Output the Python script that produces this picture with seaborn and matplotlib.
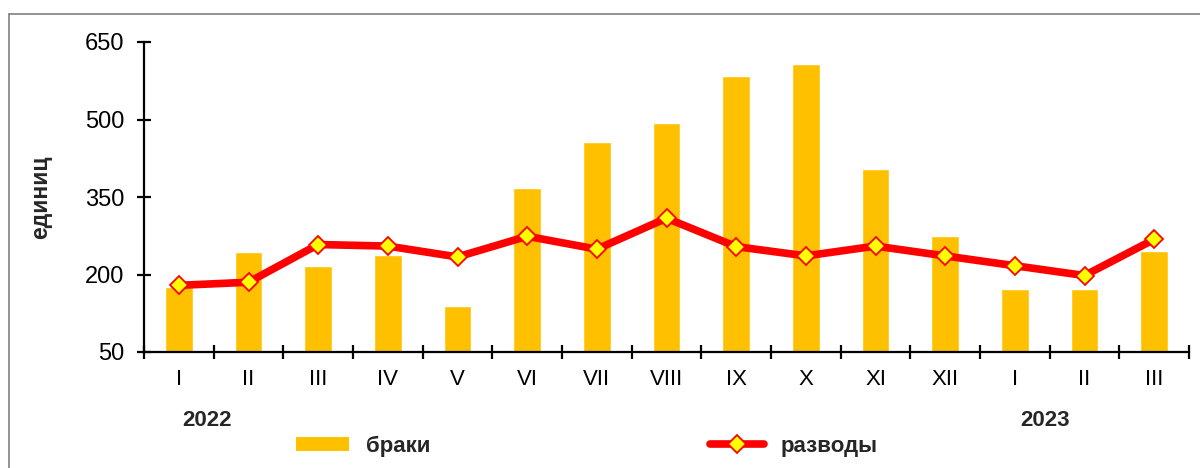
import matplotlib
matplotlib.use("Agg")
import numpy as np
import pandas as pd
import matplotlib.pyplot as plt
from matplotlib.lines import Line2D
from matplotlib.patches import Patch
import seaborn as sns

# Data
months = ["I", "II", "III", "IV", "V", "VI", "VII", "VIII", "IX", "X", "XI", "XII", "I", "II", "III"]
years = ["2022"] * 12 + ["2023"] * 3
marriages = [175, 243, 216, 238, 140, 367, 456, 493, 584, 607, 404, 275, 171, 171, 245]
divorces = [179, 185, 258, 255, 234, 274, 249, 309, 254, 236, 255, 236, 217, 198, 268]

bar_color = "#FFC000"
line_color = "#FF0000"

sns.set_theme(style="white")
plt.rcParams["font.family"] = ["Liberation Sans", "DejaVu Sans"]

df = pd.DataFrame({
    "key": [f"{y}-{m}" for y, m in zip(years, months)],
    "pos": np.arange(len(months)),
    "браки": marriages,
    "разводы": divorces,
})

fig = plt.figure(figsize=(12, 4.68), dpi=100)
ax = fig.add_axes([144 / 1200, 1 - 352 / 468, (1189 - 144) / 1200, 310 / 468])

sns.barplot(data=df, x="key", y="браки", color=bar_color, width=0.4,
            saturation=1, ax=ax, zorder=2)
sns.lineplot(data=df, x="pos", y="разводы", color=line_color, lw=5.5,
             marker="D", markersize=9, markerfacecolor="#FFFF00",
             markeredgecolor=line_color, markeredgewidth=1.3, ax=ax, zorder=3)

ax.set_xlim(-0.5, len(months) - 0.5)
ax.set_ylim(50, 650)
ax.set_yticks([50, 200, 350, 500, 650])
ax.set_xticks(df["pos"])
ax.set_xticklabels(months)
ax.set_xticks(np.arange(len(months) + 1) - 0.5, minor=True)
ax.set_xlabel("")
ax.set_ylabel("единиц", fontsize=16.5, fontweight="bold", labelpad=24)

for s in ["top", "right"]:
    ax.spines[s].set_visible(False)
for s in ["left", "bottom"]:
    ax.spines[s].set_color("black")
    ax.spines[s].set_linewidth(1.6)

ax.tick_params(axis="y", direction="inout", length=10, width=1.6, pad=9,
               labelsize=17, colors="black", left=True)
ax.tick_params(axis="x", which="major", length=0, pad=12, labelsize=16, colors="black")
ax.tick_params(axis="x", which="minor", direction="inout", length=10, width=1.6,
               bottom=True, color="black")
ax.grid(False)

fig.text(207 / 1200, 1 - 421 / 468, "2022", fontsize=16, fontweight="bold",
         ha="center", va="center")
fig.text(1045 / 1200, 1 - 421 / 468, "2023", fontsize=16, fontweight="bold",
         ha="center", va="center")

handles = [
    Patch(facecolor=bar_color, edgecolor="none"),
    Line2D([0], [0], color=line_color, lw=5.5, marker="D", markersize=9,
           markerfacecolor="#FFFF00", markeredgecolor=line_color, markeredgewidth=1.3),
]
fig.legend(handles, ["браки", "разводы"], loc="center left",
           bbox_to_anchor=(296 / 1200, 1 - 446 / 468), ncol=2, frameon=False,
           prop={"size": 16, "weight": "bold"}, handlelength=2.4, handleheight=0.6,
           handletextpad=0.75, columnspacing=12.6, borderpad=0, borderaxespad=0)

# outer frame
fig.add_artist(Line2D([9 / 1200, 1.0], [1 - 14 / 468, 1 - 14 / 468],
                      transform=fig.transFigure, color="#808080", lw=1.2))
fig.add_artist(Line2D([9 / 1200, 9 / 1200], [0, 1 - 14 / 468],
                      transform=fig.transFigure, color="#808080", lw=1.2))

fig.savefig("out.png", dpi=100)
